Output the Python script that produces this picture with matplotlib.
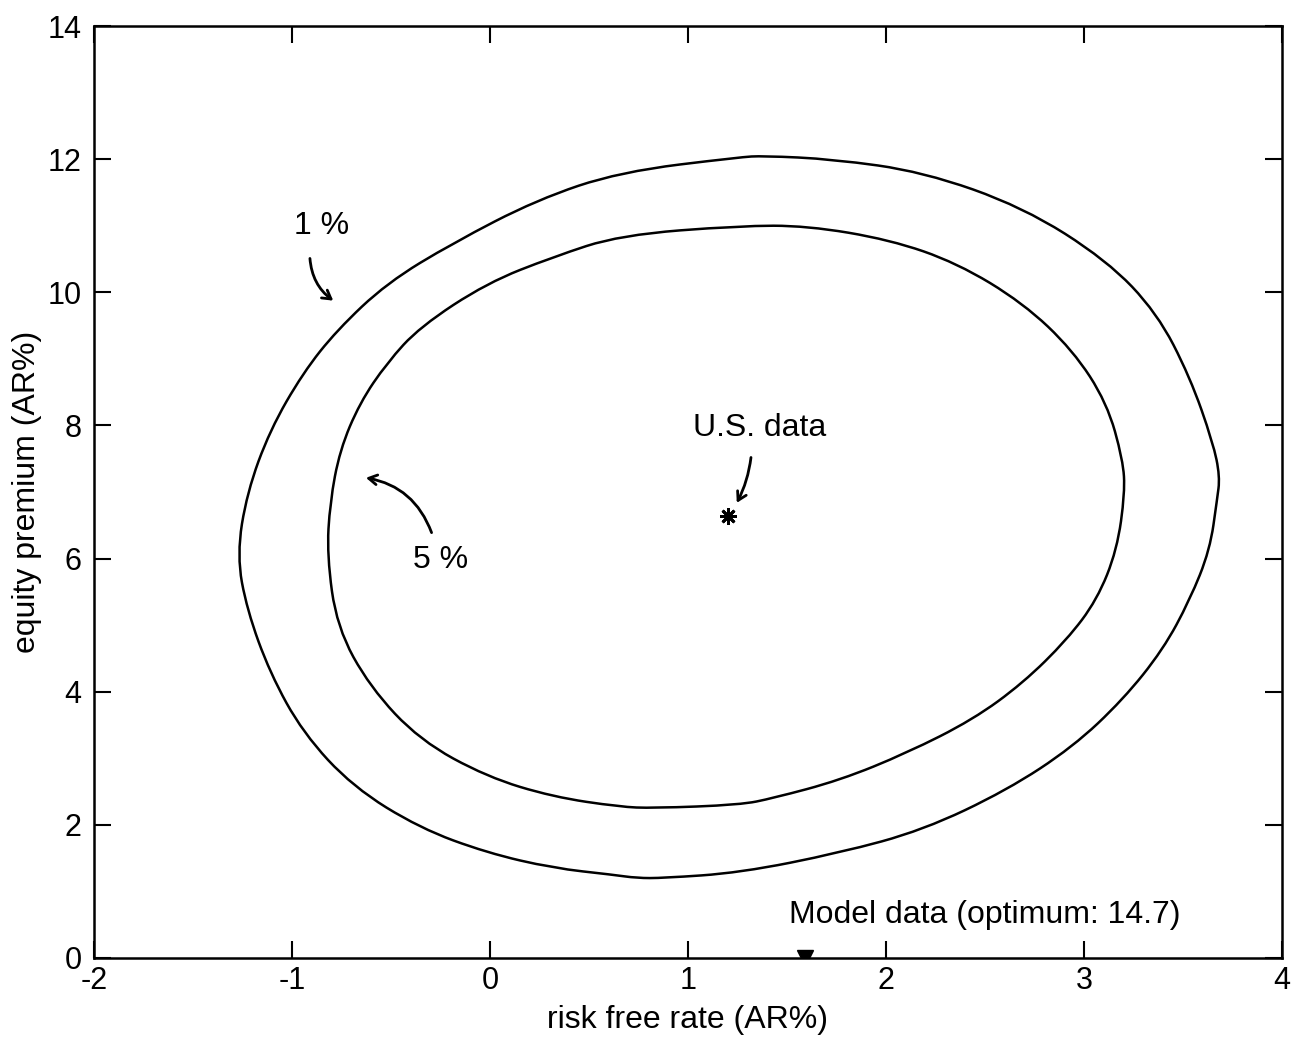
import matplotlib
matplotlib.use("Agg")
import matplotlib.pyplot as plt
from matplotlib.path import Path
from matplotlib.patches import PathPatch

# 1 % contour (outer)
outer_x = [-1.278, -1.227, -1.111, -0.944, -0.773, -0.520, -0.187, 0.237, 0.657, 1.263, 1.379,
           1.732, 2.187, 2.692, 3.116, 3.369, 3.535, 3.652, 3.687, 3.672, 3.636, 3.535, 3.399,
           3.197, 2.944, 2.611, 2.187, 1.768, 1.263, 0.874, 0.742, 0.621, 0.318, -0.015,
           -0.354, -0.692, -0.944, -1.111, -1.227, -1.278]
outer_y = [6.05, 6.99, 7.93, 8.79, 9.43, 10.14, 10.74, 11.39, 11.81, 12.03, 12.05,
           12.00, 11.81, 11.28, 10.48, 9.69, 8.73, 7.74, 7.23, 6.88, 6.13, 5.38, 4.63,
           3.88, 3.17, 2.52, 1.92, 1.58, 1.28, 1.20, 1.20, 1.25, 1.35, 1.58,
           1.95, 2.57, 3.38, 4.28, 5.23, 6.05]

# 5 % contour (inner)
inner_x = [-0.823, -0.808, -0.758, -0.657, -0.520, -0.354, -0.015, 0.318, 0.657, 1.263, 1.601,
           2.020, 2.359, 2.692, 2.944, 3.116, 3.197, 3.207, 3.167, 3.066, 2.914, 2.692,
           2.439, 2.106, 1.768, 1.429, 1.263, 0.823, 0.657, 0.318, -0.015, -0.354,
           -0.606, -0.773, -0.823]
inner_y = [6.05, 6.84, 7.63, 8.34, 8.94, 9.48, 10.14, 10.53, 10.86, 11.00, 11.00,
           10.79, 10.44, 9.84, 9.13, 8.34, 7.48, 6.99, 6.13, 5.38, 4.78, 4.13,
           3.58, 3.08, 2.67, 2.40, 2.30, 2.25, 2.27, 2.42, 2.72, 3.27,
           4.07, 4.97, 6.05]

us_point = (1.20, 6.64)
model_point = (1.59, 0.0)

x_ticks = [-2, -1, 0, 1, 2, 3, 4]
y_ticks = [0, 2, 4, 6, 8, 10, 12, 14]

plt.rcParams['font.family'] = ['Liberation Sans', 'DejaVu Sans']


def smooth_closed_path(xs, ys):
    """Closed quadratic Bezier path using the read points as control points."""
    pts = list(zip(xs[:-1], ys[:-1]))  # last point repeats the first
    n = len(pts)
    mids = [((pts[i][0] + pts[(i + 1) % n][0]) / 2, (pts[i][1] + pts[(i + 1) % n][1]) / 2)
            for i in range(n)]
    verts = [mids[-1]]
    codes = [Path.MOVETO]
    for i in range(n):
        verts += [pts[i], mids[i]]
        codes += [Path.CURVE3, Path.CURVE3]
    return Path(verts, codes)


fig = plt.figure(figsize=(13.12, 10.45), dpi=100)
ax = fig.add_axes([0.0716, 0.0833, 0.9055, 0.8918])

for xs, ys in ((outer_x, outer_y), (inner_x, inner_y)):
    ax.add_patch(PathPatch(smooth_closed_path(xs, ys), facecolor='none',
                           edgecolor='black', lw=1.8))

ax.plot([us_point[0]], [us_point[1]], marker=(8, 2, 0), color='black', ms=12, mew=2.0, ls='none')
ax.plot([model_point[0]], [model_point[1]], marker='v', color='black', ms=12, ls='none', clip_on=True)

fs = 23
ax.text(-0.85, 11.0, '1 %', fontsize=fs, ha='center', va='center')
ax.text(-0.25, 5.98, '5 %', fontsize=fs, ha='center', va='center')
ax.text(1.36, 7.96, 'U.S. data', fontsize=fs, ha='center', va='center')
ax.text(2.5, 0.65, 'Model data (optimum: 14.7)', fontsize=fs, ha='center', va='center')

arrow_kw = dict(arrowstyle='->,head_length=0.6,head_width=0.35', color='black', lw=2)
ax.annotate('', xy=(-0.78, 9.85), xytext=(-0.91, 10.55),
            arrowprops=dict(connectionstyle='arc3,rad=0.25', **arrow_kw))
ax.annotate('', xy=(-0.64, 7.22), xytext=(-0.29, 6.35),
            arrowprops=dict(connectionstyle='arc3,rad=0.3', **arrow_kw))
ax.annotate('', xy=(1.24, 6.80), xytext=(1.32, 7.56),
            arrowprops=dict(connectionstyle='arc3,rad=-0.1', **arrow_kw))

ax.set_xlim(-2, 4)
ax.set_ylim(0, 14)
ax.set_xticks(x_ticks)
ax.set_yticks(y_ticks)
ax.set_xticklabels([str(t) for t in x_ticks])
ax.set_yticklabels([str(t) for t in y_ticks])
ax.tick_params(direction='in', length=12, width=1.5, labelsize=22, top=True, right=True)
ax.tick_params(axis='x', pad=6)
ax.tick_params(axis='y', pad=9)
for s in ax.spines.values():
    s.set_linewidth(1.8)
ax.set_xlabel('risk free rate (AR%)', fontsize=fs, labelpad=6)
ax.set_ylabel('equity premium (AR%)', fontsize=fs, labelpad=4)

fig.savefig('out.png', dpi=100)
